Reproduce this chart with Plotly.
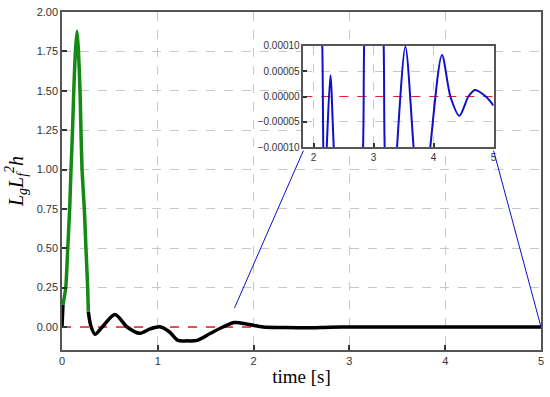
import plotly.graph_objects as go

# ---- data ----
# main curve: initial black rise, green peak, black tail
t_start = [0.0, 0.01]
v_start = [0.0, 0.14]

t_green = [0.01, 0.039, 0.06, 0.08, 0.094, 0.11, 0.123, 0.14, 0.157, 0.172, 0.188, 0.198, 0.209, 0.233, 0.25, 0.268, 0.275]
v_green = [0.14, 0.25, 0.5, 0.75, 1.0, 1.25, 1.5, 1.75, 1.877, 1.75, 1.5, 1.25, 1.0, 0.75, 0.5, 0.25, 0.097]

t_tail = [0.275, 0.30, 0.345, 0.42, 0.553, 0.68, 0.81, 0.92, 1.02, 1.12, 1.21, 1.31, 1.41, 1.55, 1.68, 1.80, 1.95, 2.10, 2.30, 2.55, 2.80, 3.0, 3.5, 4.0, 4.5, 5.0]
v_tail = [0.097, 0.01, -0.046, 0.0, 0.08, 0.0, -0.04, -0.012, 0.002, -0.03, -0.085, -0.088, -0.085, -0.04, 0.0, 0.028, 0.016, 0.0, -0.003, -0.005, -0.001, 0.0, 0.0, 0.0, 0.0, 0.0]

# inset (zoomed) curve, values in units of 1e-4
t_inset = [1.83, 2.05, 2.14, 2.165, 2.19, 2.215, 2.28, 2.34, 2.6, 2.82, 2.845, 3.0, 3.165, 3.19, 3.3, 3.385, 3.53, 3.67, 3.8, 3.94, 4.14, 4.28, 4.43, 4.58, 4.69, 4.87, 5.0]
v_inset_e4 = [4.0, 3.0, 1.2, -1.2, -1.7, -1.1, 0.42, -1.1, -6.0, -1.2, 1.2, 6.0, 1.2, -1.2, -3.0, -1.1, 0.98, -1.05, -2.8, -1.05, 0.82, 0.0, -0.38, 0.0, 0.13, 0.0, -0.18]

main_xticks = [0, 1, 2, 3, 4, 5]
main_yticks = [0.0, 0.25, 0.5, 0.75, 1.0, 1.25, 1.5, 1.75, 2.0]
inset_xticks = [2, 3, 4, 5]
inset_yticks = [-1e-4, -5e-5, 0.0, 5e-5, 1e-4]

# connector anchor points (main data coords)
conn_left = (1.8, 0.12)
conn_right = (5.0, 0.0)

main_xrange = [0, 5]
main_yrange = [-0.146, 2.0]
inset_xrange = [1.83, 5.0]
inset_yrange = [-1e-4, 1e-4]
inset_xdom = [0.504, 0.901]
inset_ydom = [0.600, 0.900]

fig = go.Figure()

fig.add_trace(go.Scatter(x=main_xrange, y=[0, 0], mode="lines",
                         line=dict(color="#e8202a", width=1.5, dash="dash"), xaxis="x", yaxis="y"))
fig.add_trace(go.Scatter(x=t_start, y=v_start, mode="lines",
                         line=dict(color="black", width=3.5), xaxis="x", yaxis="y"))
fig.add_trace(go.Scatter(x=t_tail, y=v_tail, mode="lines", line_shape="spline",
                         line=dict(color="black", width=3.5, smoothing=0.8), xaxis="x", yaxis="y"))
fig.add_trace(go.Scatter(x=t_green, y=v_green, mode="lines", line_shape="spline",
                         line=dict(color="#138a13", width=3.5, smoothing=0.6), xaxis="x", yaxis="y"))

fig.add_trace(go.Scatter(x=inset_xrange, y=[0, 0], mode="lines",
                         line=dict(color="#e8202a", width=1.2, dash="dash"), xaxis="x2", yaxis="y2"))
fig.add_trace(go.Scatter(x=t_inset, y=[v * 1e-4 for v in v_inset_e4], mode="lines", line_shape="spline",
                         line=dict(color="#1010c8", width=2, smoothing=0.8), xaxis="x2", yaxis="y2"))

# convert inset corners (paper) to main data coords
def paper_to_main(px, py):
    x = main_xrange[0] + px * (main_xrange[1] - main_xrange[0])
    y = main_yrange[0] + py * (main_yrange[1] - main_yrange[0])
    return x, y

gap = 0.01
bl = paper_to_main(inset_xdom[0], inset_ydom[0] - gap)
br = paper_to_main(inset_xdom[1], inset_ydom[0] - gap)
c0 = paper_to_main(inset_xdom[0], inset_ydom[0])
c1 = paper_to_main(inset_xdom[1], inset_ydom[1])

shapes = [
    dict(type="rect", xref="x", yref="y", x0=c0[0], x1=c1[0],
         y0=c0[1], y1=c1[1], fillcolor="white", line=dict(width=0), layer="between"),
    dict(type="line", xref="x", yref="y", x0=conn_left[0], y0=conn_left[1], x1=bl[0], y1=bl[1],
         line=dict(color="#1010c8", width=1)),
    dict(type="line", xref="x", yref="y", x0=conn_right[0], y0=conn_right[1], x1=br[0], y1=br[1],
         line=dict(color="#1010c8", width=1)),
]

axis_common = dict(showline=True, mirror=True, linecolor="#555555", linewidth=1.5,
                   ticks="inside", tickcolor="#333333", ticklen=5, tickwidth=1.5,
                   showgrid=True, gridcolor="#c8c8c8", griddash="dash", gridwidth=1,
                   zeroline=False, ticklabeloverflow="allow",
                   tickfont=dict(family="Liberation Sans, Arial", size=11, color="#333333"))

fig.update_layout(
    width=550, height=397,
    margin=dict(l=62, r=9, t=12, b=47, autoexpand=False),
    paper_bgcolor="white", plot_bgcolor="white",
    showlegend=False,
    shapes=shapes,
    xaxis=dict(axis_common, domain=[0, 1], range=main_xrange, tickvals=main_xticks, anchor="y",
               title=dict(text="time [s]", font=dict(family="Liberation Serif, Times New Roman", size=19, color="black"), standoff=4)),
    yaxis=dict(axis_common, domain=[0, 1], range=main_yrange, tickvals=main_yticks, tickformat=".2f", anchor="x",
               title=dict(text="<i>L<sub>g</sub>L<sub>f</sub><sup>2</sup>h</i>",
                          font=dict(family="Liberation Serif, Times New Roman", size=20, color="black"), standoff=8)),
    xaxis2=dict(axis_common, domain=inset_xdom, range=inset_xrange, tickvals=inset_xticks, anchor="y2",
                tickfont=dict(family="Liberation Sans, Arial", size=10, color="#333333"), ticklen=4),
    yaxis2=dict(axis_common, domain=inset_ydom, range=inset_yrange, tickvals=inset_yticks, tickformat=".5f", anchor="x2",
                tickfont=dict(family="Liberation Sans, Arial", size=10, color="#333333"), ticklen=4),
)

# remove the browser's default 8px body margin so the figure sits at the window's corner
fig.write_html("out.html", config={"displayModeBar": False},
               post_script="document.body.style.margin='0px';")
